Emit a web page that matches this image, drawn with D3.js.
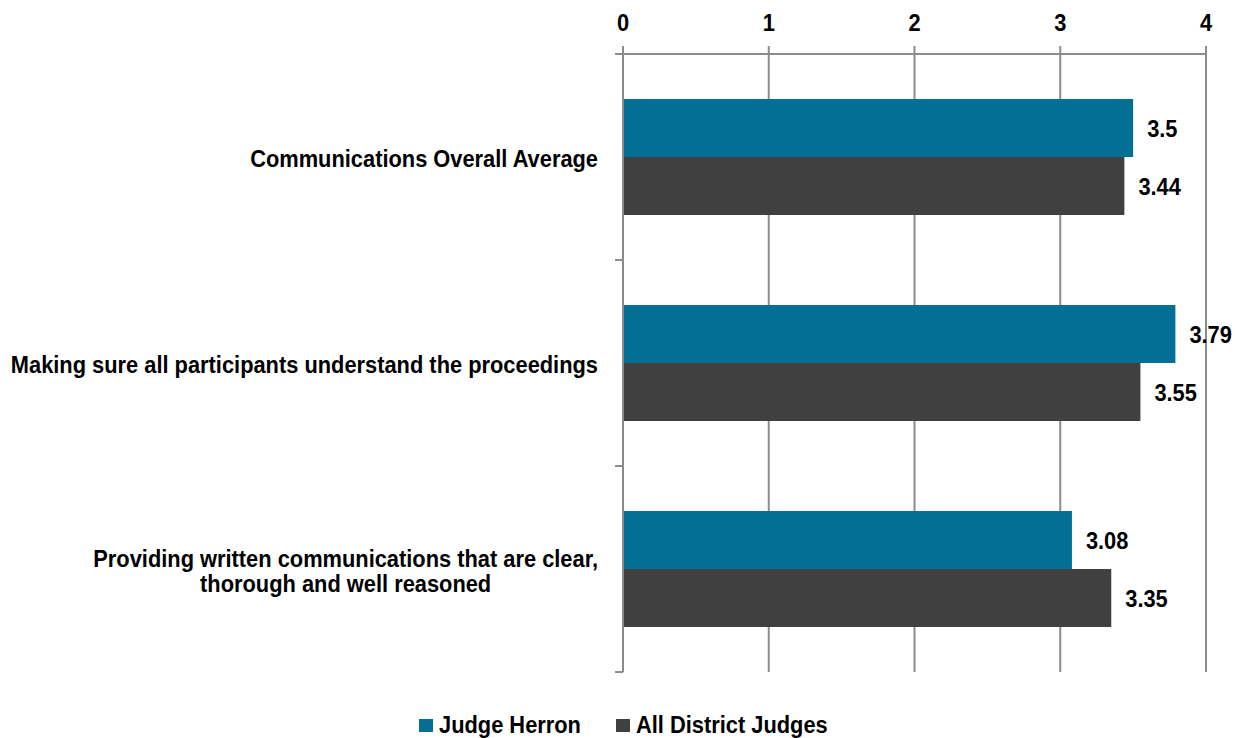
<!DOCTYPE html>
<html>
<head>
<meta charset="utf-8">
<script src="https://cdn.jsdelivr.net/npm/d3@7"></script>
<style>
  body { margin: 0; background: #fff; }
  svg text { font-family: "Liberation Sans", Arial, sans-serif; font-weight: bold; fill: #000; font-size: 24px; }
</style>
</head>
<body>
<div id="chart"></div>
<script>
// data
const categories = [
    ["Communications Overall Average"],
    ["Making sure all participants understand the proceedings"],
    ["Providing written communications that are clear,", "thorough and well reasoned"]
]
const seriesNames = ["Judge Herron", "All District Judges"]
const judgeHerron = [3.5, 3.79, 3.08]
const allDistrictJudges = [3.44, 3.55, 3.35]
const ticks = [0, 1, 2, 3, 4]
const colors = ["#036f96", "#404040"]

const width = 1243
const height = 738
const plot = { left: 623, right: 1206, top: 54, bottom: 672 }
const gridColor = "#8c8c8c"
// the original font is a narrow one, squeeze the text a bit
const squeeze = 0.91

const svg = d3.select("#chart")
    .append("svg")
    .attr("width", width)
    .attr("height", height)

function addText(parent, x, y, str, anchor) {
    const g = parent.append("g")
        .attr("transform", `translate(${x},${y}) scale(${squeeze},1)`)
    return g.append("text")
        .attr("text-anchor", anchor || "start")
        .text(str)
}

const x = d3.scaleLinear()
    .domain([0, 4])
    .range([plot.left, plot.right])

const catKeys = categories.map((c, i) => i)
const y0 = d3.scaleBand()
    .domain(catKeys)
    .range([plot.top, plot.bottom])

// bars are 58px tall, 45px free above and below each pair
const y1 = d3.scaleBand()
    .domain(seriesNames)
    .range([0, y0.bandwidth()])
    .paddingOuter(45 / 58)

// gridlines (with small tick above the axis)
svg.append("g")
    .selectAll("line")
    .data(ticks)
    .join("line")
    .attr("x1", d => x(d))
    .attr("x2", d => x(d))
    .attr("y1", plot.top - 8)
    .attr("y2", plot.bottom)
    .attr("stroke", gridColor)
    .attr("stroke-width", 2)

// top axis line
svg.append("line")
    .attr("x1", plot.left - 8)
    .attr("x2", plot.right)
    .attr("y1", plot.top)
    .attr("y2", plot.top)
    .attr("stroke", gridColor)
    .attr("stroke-width", 2)

// category tick marks on the left axis
const catBounds = catKeys.map(i => y0(i) + y0.bandwidth())
svg.append("g")
    .selectAll("line")
    .data(catBounds)
    .join("line")
    .attr("x1", plot.left - 8)
    .attr("x2", plot.left)
    .attr("y1", d => d)
    .attr("y2", d => d)
    .attr("stroke", gridColor)
    .attr("stroke-width", 2)

// top tick labels
const tickG = svg.append("g")
ticks.forEach(t => addText(tickG, x(t), 31, t, "middle"))

// bars
const rows = catKeys.map(i => ({
    cat: i,
    values: [
        { name: seriesNames[0], value: judgeHerron[i], color: colors[0] },
        { name: seriesNames[1], value: allDistrictJudges[i], color: colors[1] }
    ]
}))

const groups = svg.append("g")
    .selectAll("g")
    .data(rows)
    .join("g")
    .attr("transform", d => `translate(0,${y0(d.cat)})`)

groups.selectAll("rect")
    .data(d => d.values)
    .join("rect")
    .attr("x", x(0) + 1)
    .attr("y", d => y1(d.name))
    .attr("width", d => x(d.value) - x(0) - 1)
    .attr("height", y1.bandwidth())
    .attr("fill", d => d.color)

groups.each(function (r) {
    const g = d3.select(this)
    r.values.forEach(d => {
        addText(g, x(d.value) + 14, y1(d.name) + y1.bandwidth() / 2 + 9, d.value)
    })
})

// category labels, block right-aligned, lines centred
const labelRight = 598
rows.forEach(r => {
    const lines = categories[r.cat]
    const g = svg.append("g")
    const cy = y0(r.cat) + y0.bandwidth() / 2
    const lh = 25
    const yOf = j => cy + 10 + (j - (lines.length - 1) / 2) * lh
    const texts = lines.map((ln, j) => addText(g, 0, yOf(j), ln, "middle"))
    const maxW = d3.max(texts, t => t.node().getComputedTextLength()) * squeeze
    texts.forEach((t, j) => {
        d3.select(t.node().parentNode)
            .attr("transform", `translate(${labelRight - maxW / 2},${yOf(j)}) scale(${squeeze},1)`)
    })
})

// legend
const legend = svg.append("g")
const legendItems = [
    { name: seriesNames[0], color: colors[0], x: 419 },
    { name: seriesNames[1], color: colors[1], x: 616 }
]
legendItems.forEach(d => {
    legend.append("rect")
        .attr("x", d.x)
        .attr("y", 719)
        .attr("width", 14)
        .attr("height", 13)
        .attr("fill", d.color)
    addText(legend, d.x + 20, 733, d.name)
})
</script>
</body>
</html>
